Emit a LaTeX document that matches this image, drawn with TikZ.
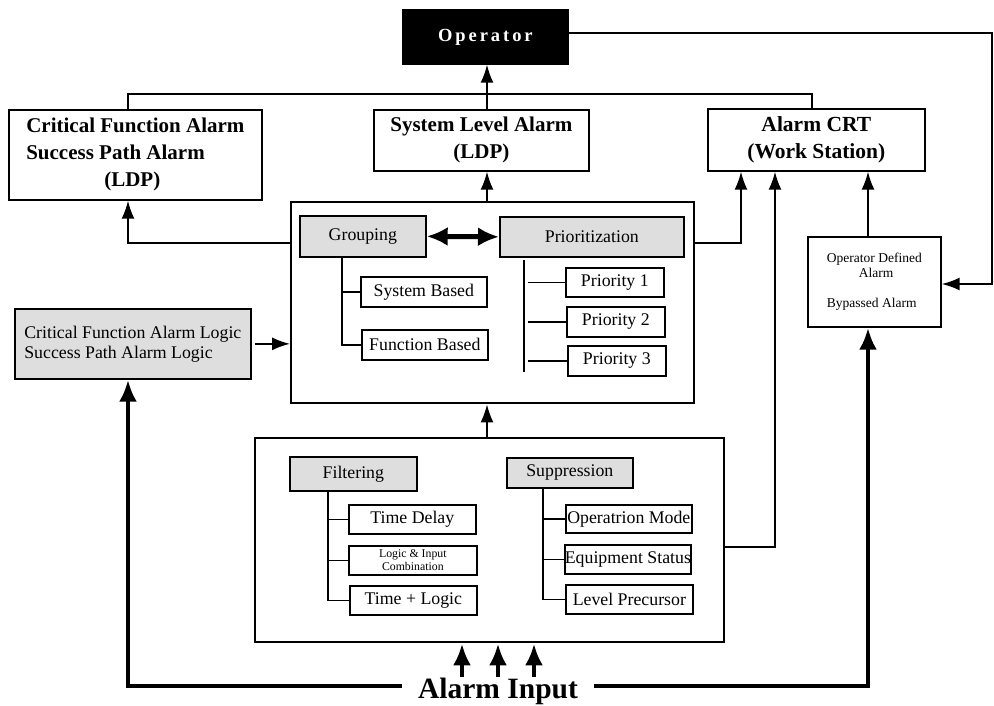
\documentclass[tikz,border=0pt]{standalone}
\usepackage{fontspec}
\setmainfont{Liberation Serif}
\usetikzlibrary{arrows.meta}
\tikzset{
  box/.style={draw, line width=1.7pt, inner sep=0pt, anchor=north west, align=center},
  shadebox/.style={box, fill=black!13},
  bigbox/.style={draw, line width=2.4pt, inner sep=0pt, anchor=north west},
  ln/.style={line width=1.7pt},
  arr/.style={line width=1.7pt, -{Latex[length=18pt,width=13pt]}},
  thk/.style={line width=4.5pt, -{Latex[length=22pt,width=18pt]}},
  dbl/.style={line width=5pt, {Latex[length=21pt,width=19pt]}-{Latex[length=21pt,width=19pt]}},
  hd/.style={font=\bfseries\fontsize{21}{27}\selectfont},
  rg/.style={font=\fontsize{17.8}{20}\selectfont},
}
\begin{document}
\begin{tikzpicture}[x=1pt,y=-1pt]
\useasboundingbox (0,0) rectangle (994,705);
% column coordinates
\coordinate (xa) at (487,0);
\coordinate (xl) at (128,0);
\coordinate (xr) at (812,0);
\coordinate (xc1) at (741,0);
\coordinate (xc2) at (775,0);
\coordinate (xc3) at (868,0);
\coordinate (xe) at (992,0);
\coordinate (xg) at (342,0);
\coordinate (xpb) at (528,0);
\coordinate (xf) at (328,0);
\coordinate (xs) at (543,0);
\coordinate (ybus) at (0,94);
\coordinate (yod) at (0,284);
\coordinate (ymw) at (0,243);
\coordinate (ybe) at (0,547);
\coordinate (yth) at (0,686);
\coordinate (pt) at (524,260);
\coordinate (pb) at (524,372);

% top row
\node[box, fill=black, text=white, minimum width=165pt, minimum height=54pt,
      font=\bfseries\fontsize{18.5}{20}\selectfont\addfontfeature{LetterSpace=16}] (op) at (402,9) {Operator};
\node[box, minimum width=253pt, minimum height=90pt, hd, align=left] (cf) at (8,109)
  {Critical Function Alarm\\Success Path Alarm\\\hspace*{78pt}(LDP)};
\node[box, minimum width=215pt, minimum height=61pt, hd] (sl) at (373,109) {System Level Alarm\\(LDP)};
\node[box, minimum width=217pt, minimum height=62pt, hd, font=\bfseries\fontsize{21.5}{27}\selectfont] (crt) at (707,108) {Alarm CRT\\(Work Station)};

% middle block
\node[bigbox, minimum width=403pt, minimum height=201pt] (mid) at (290,201) {};
\node[shadebox, minimum width=126pt, minimum height=41pt, rg] (grp) at (299,215) {Grouping};
\node[shadebox, minimum width=184pt, minimum height=40pt, rg] (pri) at (499,216) {Prioritization};
\node[box, minimum width=126pt, minimum height=30pt, rg] (sb) at (360,276) {System Based};
\node[box, minimum width=126pt, minimum height=30pt, rg] (fb) at (361,329) {Function Based};
\node[box, minimum width=98pt, minimum height=29pt, rg] (p1) at (565,267) {Priority 1};
\node[box, minimum width=98pt, minimum height=30pt, rg] (p2) at (566,306) {Priority 2};
\node[box, minimum width=98pt, minimum height=30pt, rg] (p3) at (567,345) {Priority 3};

% side boxes
\node[shadebox, minimum width=236pt, minimum height=70pt, rg, align=left] (logic) at (14,308)
  {Critical Function Alarm Logic\\Success Path Alarm Logic};
\node[box, minimum width=133pt, minimum height=90pt, align=left, font=\fontsize{13.5}{15}\selectfont] (odef) at (807,236)
  {Operator Defined\\\hspace*{32pt}Alarm\\[15pt]Bypassed Alarm};

% bottom block
\node[bigbox, minimum width=469pt, minimum height=204pt] (bot) at (254,437) {};
\node[shadebox, minimum width=127pt, minimum height=34pt, rg] (filt) at (289,456) {Filtering};
\node[box, minimum width=127pt, minimum height=29pt, rg] (td) at (348,504) {Time Delay};
\node[box, minimum width=128pt, minimum height=29pt, font=\fontsize{11.8}{13}\selectfont] (lic) at (348,545) {Logic \& Input\\Combination};
\node[box, minimum width=127pt, minimum height=29pt, rg] (tl) at (349,585) {Time + Logic};
\node[shadebox, minimum width=126pt, minimum height=30pt, rg] (sup) at (506,457) {Suppression};
\node[box, minimum width=126pt, minimum height=28pt, rg] (om) at (565,504) {Operatrion Mode};
\node[box, minimum width=126pt, minimum height=29pt, rg] (es) at (564,544) {Equipment Status};
\node[box, minimum width=127pt, minimum height=29pt, rg] (lp) at (565,584) {Level Precursor};

\node[inner sep=0pt, font=\bfseries\fontsize{29.5}{30}\selectfont] (ai) at (498,691) {Alarm Input};
\coordinate (b1) at (462,677);
\coordinate (b2) at (498,677);
\coordinate (b3) at (534,677);

% connectors: top
\draw[ln] (cf.north -| xl) |- (ybus -| xr) -- (crt.north -| xr);
\draw[arr] (sl.north -| xa) -- (op.south -| xa);
\draw[arr] ([yshift=4pt]op.east) -| (xe |- yod) -- (odef.east |- yod);
% middle block outputs
\draw[arr] (mid.north -| xa) -- (sl.south -| xa);
\draw[arr] (mid.west |- ymw) -| (cf.south -| xl);
\draw[arr] (mid.east |- ymw) -| (crt.south -| xc1);
\draw[dbl] (grp.east) -- (pri.west);
\draw[ln] (grp.south -| xg) -- (fb.west -| xg) -- (fb.west);
\draw[ln] (sb.west -| xg) -- (sb.west);
\draw[ln] (pt) -- (pb);
\draw[ln] (p1.west -| xpb) -- (p1.west);
\draw[ln] (p2.west -| xpb) -- (p2.west);
\draw[ln] (p3.west -| xpb) -- (p3.west);
% side
\draw[arr] ([xshift=3pt]logic.east) -- (mid.west |- logic.east);
\draw[arr] (odef.north -| xc3) -- (crt.south -| xc3);
% bottom block
\draw[arr] (bot.north -| xa) -- (mid.south -| xa);
\draw[arr] (bot.east |- ybe) -| (crt.south -| xc2);
\draw[ln] (filt.south -| xf) -- (tl.west -| xf) -- (tl.west);
\draw[ln] (td.west -| xf) -- (td.west);
\draw[ln] (lic.west -| xf) -- (lic.west);
\draw[ln] (sup.south -| xs) -- (lp.west -| xs) -- (lp.west);
\draw[ln] (om.west -| xs) -- (om.west);
\draw[ln] (es.west -| xs) -- (es.west);
% alarm input
\draw[thk] (b1) -- (bot.south -| b1);
\draw[thk] (b2) -- (bot.south -| b2);
\draw[thk] (b3) -- (bot.south -| b3);
\draw[thk] ([xshift=-16pt]ai.west |- yth) -| (logic.south -| xl);
\draw[thk] ([xshift=16pt]ai.east |- yth) -| (odef.south -| xc3);
\end{tikzpicture}
\end{document}
